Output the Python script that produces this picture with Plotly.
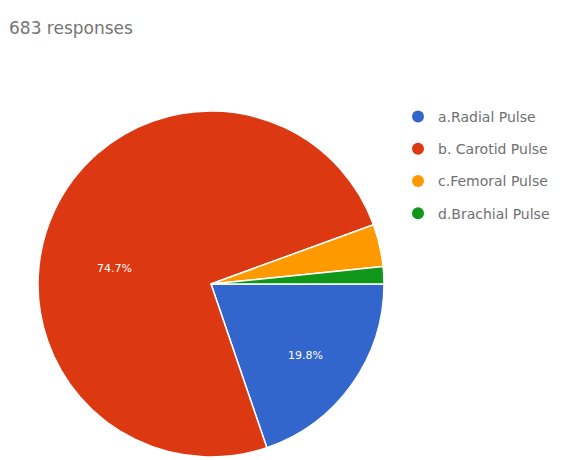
import plotly.graph_objects as go

# Survey answers (683 responses)
categories = ["a.Radial Pulse", "b. Carotid Pulse", "c.Femoral Pulse", "d.Brachial Pulse"]
counts = [135, 510, 27, 11]
colors = ["#3366CC", "#DC3912", "#FF9900", "#109618"]
subtitle = "683 responses"

W, H = 572, 460
cx, cy, r = 211, 284, 173  # pie centre and radius in pixels

fig = go.Figure()

fig.add_trace(go.Pie(
    labels=categories,
    values=counts,
    sort=False,
    direction="clockwise",
    rotation=90,
    marker=dict(colors=colors, line=dict(color="white", width=1.5)),
    textinfo="none",
    hoverinfo="label+value+percent",
    showlegend=False,
    domain=dict(x=[(cx - r) / W, (cx + r) / W], y=[1 - (cy + r) / H, 1 - (cy - r) / H]),
))

# Percentage labels on the two large slices
total = sum(counts)
label_pos = {0: (305, 364), 1: (95, 268)}
for i, (px, py) in label_pos.items():
    fig.add_annotation(
        x=px / W, y=1 - py / H, xref="paper", yref="paper",
        text=f"{100 * counts[i] / total:.1f}%", showarrow=False,
        font=dict(family="DejaVu Sans", size=11, color="white"),
    )

# Legend entries with round swatches
for name, col in zip(categories, colors):
    fig.add_trace(go.Scatter(
        x=[None], y=[None], mode="markers", name=name,
        marker=dict(symbol="circle", size=14, color=col),
        legendgroup=name, showlegend=True, hoverinfo="skip",
    ))

fig.update_layout(
    width=W, height=H,
    margin=dict(l=0, r=0, t=0, b=0),
    paper_bgcolor="white",
    plot_bgcolor="white",
    xaxis=dict(visible=False),
    yaxis=dict(visible=False),
    title=dict(
        text=subtitle, x=9 / W, xanchor="left", y=1 - 28 / H, yanchor="middle",
        font=dict(family="DejaVu Sans", size=17, color="#757575"),
    ),
    legend=dict(
        x=398 / W, xanchor="left", y=1 - 101 / H, yanchor="top",
        font=dict(family="DejaVu Sans", size=14, color="#707070"),
        tracegroupgap=11, itemsizing="constant",
        bgcolor="rgba(0,0,0,0)",
    ),
)

fig.write_html("out.html")
